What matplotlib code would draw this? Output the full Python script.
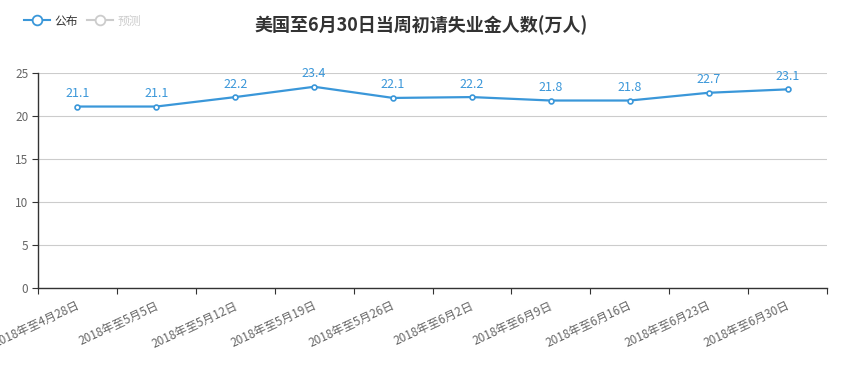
import matplotlib
matplotlib.use('Agg')
import matplotlib.pyplot as plt
from matplotlib.lines import Line2D

plt.rcParams['font.family'] = ['Noto Sans CJK SC', 'DejaVu Sans']

# 数据
dates = ['2018年至4月28日', '2018年至5月5日', '2018年至5月12日', '2018年至5月19日',
         '2018年至5月26日', '2018年至6月2日', '2018年至6月9日', '2018年至6月16日',
         '2018年至6月23日', '2018年至6月30日']
published = [21.1, 21.1, 22.2, 23.4, 22.1, 22.2, 21.8, 21.8, 22.7, 23.1]
yticks = [0, 5, 10, 15, 20, 25]

blue = '#3a97d9'
gray = '#666666'

fig = plt.figure(figsize=(8.43, 3.67), dpi=100)
ax = fig.add_axes([38/843, 1-288/367, 789/843, 215/367])

n = len(dates)
xs = [i + 0.5 for i in range(n)]
ax.plot(xs, published, color=blue, lw=1.6, marker='o', ms=3.5,
        mfc='white', mec=blue, mew=1.2, zorder=3)
for x, v in zip(xs, published):
    ax.text(x, v + 0.75, f'{v}', ha='center', va='bottom', color=blue, fontsize=9)

ax.set_xlim(0, n)
ax.set_ylim(0, 25)
ax.set_yticks(yticks)
ax.set_xticks(range(n + 1))
ax.set_xticklabels([])
ax.tick_params(axis='x', length=4, color='#333333')
ax.tick_params(axis='y', length=4, color='#333333', labelcolor=gray, labelsize=8.5, pad=3)
ax.grid(axis='y', color='#cccccc', lw=0.8)
ax.set_axisbelow(True)
for s in ['top', 'right']:
    ax.spines[s].set_visible(False)
for s in ['left', 'bottom']:
    ax.spines[s].set_color('#333333')
    ax.spines[s].set_linewidth(1)

# 旋转的类目标签
for x, d in zip(xs, dates):
    ax.annotate(d, xy=(x, 0), xycoords=('data', 'axes fraction'),
                xytext=(-1, -8), textcoords='offset points',
                ha='right', va='top', rotation=25, rotation_mode='anchor',
                color=gray, fontsize=8.5, annotation_clip=False)

fig.text(421/843, 1-25/367, '美国至6月30日当周初请失业金人数(万人)', ha='center', va='center',
         fontsize=13, fontweight='bold', color='#333333')

handles = [Line2D([], [], color=blue, marker='o', ms=7, mfc='white', mew=1.3, lw=1.5),
           Line2D([], [], color='#cccccc', marker='o', ms=7, mfc='white', mew=1.3, lw=1.5)]
leg = fig.legend(handles, ['公布', '预测'], loc='center left', bbox_to_anchor=(13/843, 1-21/367),
                 ncol=2, frameon=False, fontsize=8.5, handlelength=2.2, handletextpad=0.4,
                 columnspacing=0.8)
leg.get_texts()[0].set_color('#333333')
leg.get_texts()[1].set_color('#cccccc')

fig.savefig('out.png', dpi=100)
